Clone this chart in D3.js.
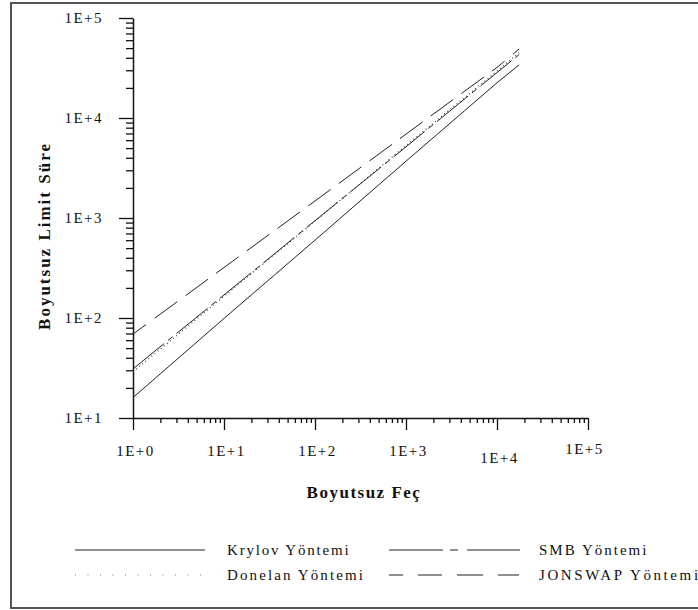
<!doctype html>
<html lang="en">
<head>
<meta charset="utf-8">
<script src="https://d3js.org/d3.v7.min.js"></script>
<style>
  body { margin: 0; background: #fff; }
  svg { display: block; }
</style>
</head>
<body>
<div id="chart"></div>
<script>
// dimensionless fetch (x) and limit duration (y)
var fetch = [1, 10, 100, 1000, 10000, 17500];
var krylov = [16, 99, 600, 3700, 22500, 34000];
var donelan = [29, 165, 930, 5300, 29500, 45000];
var smb = [31, 170, 940, 5150, 28500, 43000];
var jonswap = [69, 320, 1480, 6900, 32000, 49000];

var xTicks = [1, 10, 100, 1000, 10000, 100000];
var yTicks = [10, 100, 1000, 10000, 100000];
var xLabels = ["1E+0", "1E+1", "1E+2", "1E+3", "1E+4", "1E+5"];
var yLabels = ["1E+1", "1E+2", "1E+3", "1E+4", "1E+5"];

var seriesNames = ["Krylov Yöntemi", "Donelan Yöntemi", "SMB Yöntemi", "JONSWAP Yöntemi"];

var FONT = "Liberation Serif";

var W = 698, H = 610;
var svg = d3.select("#chart").append("svg")
    .attr("width", W)
    .attr("height", H);

// outer frame (right side runs off the picture)
svg.append("rect")
    .attr("x", 11).attr("y", 3)
    .attr("width", 720).attr("height", 605)
    .attr("fill", "none")
    .attr("stroke", "#555")
    .attr("stroke-width", 2);

var x = d3.scaleLog().domain([1, 100000]).range([133, 588]);
var y = d3.scaleLog().domain([10, 100000]).range([418, 18]);

// minor ticks 2..9 in every decade
function minors(lo, hi) {
    var out = [];
    for (var p = lo; p < hi; p *= 10)
        for (var k = 2; k <= 9; k++) out.push(p * k);
    return out;
}

// x axis
svg.append("g")
    .attr("transform", "translate(0,418)")
    .call(d3.axisBottom(x).tickValues(minors(1, 100000)).tickSize(5).tickSizeOuter(0).tickFormat(""))
    .call(g => g.select(".domain").remove());
var xa = svg.append("g")
    .attr("transform", "translate(0,418)")
    .call(d3.axisBottom(x).tickValues(xTicks).tickSize(12).tickSizeOuter(0)
        .tickFormat((d, i) => xLabels[i]).tickPadding(15));
xa.selectAll("text")
    .attr("dy", (d, i) => i == 4 ? "1.2em" : (i == 5 ? "0.58em" : "0.71em"))
    .attr("dx", (d, i) => i == 5 ? -4 : 2);

// y axis
svg.append("g")
    .attr("transform", "translate(133,0)")
    .call(d3.axisLeft(y).tickValues(minors(10, 100000)).tickSize(7).tickSizeOuter(0).tickFormat(""))
    .call(g => g.select(".domain").remove());
var ya = svg.append("g")
    .attr("transform", "translate(133,0)")
    .call(d3.axisLeft(y).tickValues(yTicks).tickSize(14).tickSizeOuter(0)
        .tickFormat((d, i) => yLabels[i]).tickPadding(16));

svg.selectAll(".tick text")
    .style("font-family", FONT)
    .style("font-size", "15px")
    .style("letter-spacing", "1.5px")
    .attr("fill", "#111");
svg.selectAll(".tick line").attr("stroke", "#111").attr("stroke-width", 1.3);
svg.selectAll(".domain").attr("stroke", "#111").attr("stroke-width", 1.5);

// axis titles
svg.append("text")
    .attr("x", 364).attr("y", 498)
    .attr("text-anchor", "middle")
    .style("font-family", FONT)
    .style("font-size", "17px").style("font-weight", "bold")
    .style("letter-spacing", "1.5px")
    .attr("fill", "#111")
    .text("Boyutsuz Feç");
svg.append("text")
    .attr("transform", "translate(50,236) rotate(-90)")
    .attr("text-anchor", "middle")
    .style("font-family", FONT)
    .style("font-size", "17px").style("font-weight", "bold")
    .style("letter-spacing", "2px")
    .attr("fill", "#111")
    .text("Boyutsuz Limit Süre");

var styles = [
    { dash: null, color: "#222", w: 1 },
    { dash: "1,3", color: "#444", w: 1.2 },
    { dash: "40,5,6,5", color: "#222", w: 1 },
    { dash: "16,11,28,10,28,10,28,10,28,10,28,10,28,10,28,10,28,10,28,10,28,10,28,10", color: "#222", w: 1 }
];
var allSeries = [krylov, donelan, smb, jonswap];

var line = d3.line()
    .x(d => x(d[0]))
    .y(d => y(d[1]));

allSeries.forEach(function (s, i) {
    svg.append("path")
        .datum(fetch.map((f, j) => [f, s[j]]))
        .attr("fill", "none")
        .attr("stroke", styles[i].color)
        .attr("stroke-width", styles[i].w)
        .attr("stroke-dasharray", styles[i].dash)
        .attr("d", line);
});

// legend
var legendPos = [
    { x1: 75, x2: 205, tx: 227, y: 550, ls: 1.8 },
    { x1: 75, x2: 205, tx: 227, y: 575, ls: 2.1 },
    { x1: 389, x2: 520, tx: 539, y: 550, ls: 2 },
    { x1: 389, x2: 520, tx: 539, y: 575, ls: 2.6 }
];
var legendDash = [null, "1,11.5", "54,7,8,9,53", "14,15,24,15,26,15,21"];
seriesNames.forEach(function (name, i) {
    var p = legendPos[i];
    svg.append("line")
        .attr("x1", p.x1).attr("x2", p.x2)
        .attr("y1", p.y).attr("y2", p.y)
        .attr("stroke", i == 1 ? "#777" : "#222")
        .attr("stroke-width", 1.2)
        .attr("stroke-dasharray", legendDash[i]);
    svg.append("text")
        .attr("x", p.tx).attr("y", p.y + 5)
        .style("font-family", FONT)
        .style("font-size", "15px")
        .style("letter-spacing", p.ls + "px")
        .attr("fill", "#111")
        .text(name);
});
</script>
</body>
</html>
